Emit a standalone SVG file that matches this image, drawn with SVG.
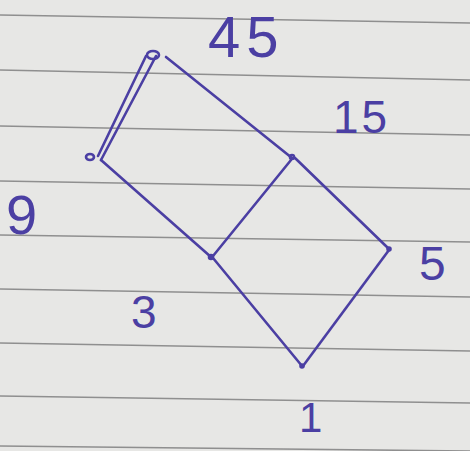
<svg xmlns="http://www.w3.org/2000/svg" width="470" height="451" viewBox="0 0 470 451">
<style>
.paper line{stroke:#8f8f8f;stroke-width:1.6}
.edge{stroke:#4b3fa3;stroke-width:2.6;fill:none;stroke-linecap:round}
.dot{fill:none;stroke:#4b3fa3;stroke-width:2.6}
.lbl{font-family:"Liberation Sans",Arial,sans-serif;fill:#4b3fa3;font-weight:normal}
</style>
<rect width="470" height="451" fill="#e7e7e5"/>
<g class="paper">
<line x1="0" y1="15" x2="470" y2="23"/>
<line x1="0" y1="70" x2="470" y2="80"/>
<line x1="0" y1="126" x2="470" y2="135"/>
<line x1="0" y1="181" x2="470" y2="189"/>
<line x1="0" y1="235" x2="470" y2="242"/>
<line x1="0" y1="289" x2="470" y2="297"/>
<line x1="0" y1="343" x2="470" y2="351"/>
<line x1="0" y1="396" x2="470" y2="403"/>
<line x1="0" y1="446" x2="470" y2="451"/>
</g>
<g id="connectors">
<path class="edge" d="M146,56 L98,156"/>
<path class="edge" d="M156,56 L101,160"/>
<path class="edge" d="M166,57 L292,158"/>
<path class="edge" d="M101,160 L211,257"/>
<path class="edge" d="M291,160 L213,256"/>
<path class="edge" d="M295,158 L388,248"/>
<path class="edge" d="M213,258 L302,366"/>
<path class="edge" d="M389,250 L303,366"/>
</g>
<g id="n45"><ellipse class="dot" cx="153" cy="55" rx="6" ry="4"/><text class="lbl" x="208" y="57" font-size="58" letter-spacing="6">45</text></g>
<g id="n15"><circle class="dot" cx="292" cy="157" r="2"/><text class="lbl" x="333" y="133" font-size="46" letter-spacing="3">15</text></g>
<g id="n9"><ellipse class="dot" cx="90" cy="157" rx="4" ry="3"/><text class="lbl" x="6" y="234" font-size="56">9</text></g>
<g id="n5"><circle class="dot" cx="389" cy="249" r="1.5"/><text class="lbl" x="419" y="280" font-size="48">5</text></g>
<g id="n3"><circle class="dot" cx="211" cy="257" r="2"/><text class="lbl" x="131" y="328" font-size="46">3</text></g>
<g id="n1"><circle class="dot" cx="302" cy="366" r="1.5"/><text class="lbl" x="299" y="432" font-size="42">1</text></g>
</svg>
